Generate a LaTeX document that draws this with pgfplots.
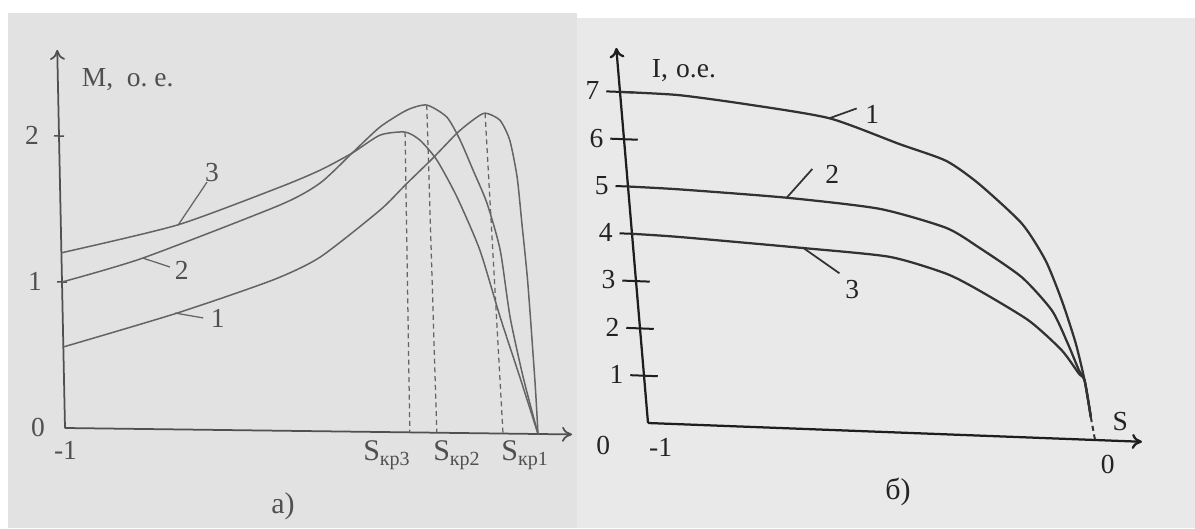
\documentclass[border=0pt]{standalone}
\usepackage{fontspec}
\setmainfont{Liberation Serif}
\usepackage{pgfplots}
\pgfplotsset{compat=1.18}
\usetikzlibrary{arrows.meta}
\definecolor{bgL}{RGB}{226,226,226}
\definecolor{bgR}{RGB}{233,233,233}
\definecolor{lineL}{RGB}{100,100,100}
\definecolor{axisL}{RGB}{80,80,80}
\definecolor{textL}{RGB}{80,80,80}
\definecolor{lineR}{RGB}{50,50,50}
\definecolor{axisR}{RGB}{30,30,30}
\definecolor{textR}{RGB}{35,35,35}
\begin{document}
\begin{tikzpicture}
\fill[white] (0pt,0pt) rectangle (478pt,211.2pt);
\fill[bgL] (3.2pt,0pt) rectangle (230.8pt,206pt);
\fill[bgR] (230.8pt,0pt) rectangle (478pt,204pt);

% ---------------- panel a) ----------------
\begin{axis}[
  at={(215.2pt,37.6pt)}, anchor=origin,
  x={(189.2pt,-2.4pt)}, y={(-1.2pt,58.4pt)},
  xmin=-1, xmax=0.072, ymin=0, ymax=2.59,
  axis lines=left,
  axis line style={draw=axisL, line width=0.7pt, -{To[length=4pt,width=6pt]}},
  clip=false,
  xtick={-1}, xticklabels={-1},
  ytick={1,2}, yticklabels={1,2},
  extra y ticks={0}, extra y tick labels={0},
  extra y tick style={tick style={draw=none}},
  tick align=center, major tick length=4pt,
  tick style={draw=axisL, line width=0.6pt},
  xtick style={draw=none},
  ticklabel style={font=\fontsize{11}{13}\selectfont, text=textL},
  yticklabel style={xshift=-2.5pt},
  xticklabel style={yshift=0pt},
]
% curve 1
\addplot[lineL, line width=0.6pt, smooth, tension=0.4] coordinates {
 (-1,0.555) (-0.758,0.797) (-0.554,1.032) (-0.453,1.193) (-0.324,1.521)
 (-0.270,1.694) (-0.210,1.882) (-0.158,2.055) (-0.124,2.145) (-0.098,2.194)
 (-0.067,2.147) (-0.047,2.011) (-0.033,1.758) (-0.025,1.444) (-0.015,1.034)
 (-0.004,0.349) (0,0)};
% curve 2
\addplot[lineL, line width=0.6pt, smooth, tension=0.4] coordinates {
 (-1,1.0) (-0.828,1.171) (-0.536,1.546) (-0.450,1.700) (-0.381,1.908)
 (-0.321,2.089) (-0.263,2.208) (-0.221,2.244) (-0.179,2.163) (-0.152,2.007)
 (-0.126,1.803) (-0.098,1.578) (-0.072,1.257) (-0.054,0.799) (-0.029,0.389)
 (0,0)};
% curve 3
\addplot[lineL, line width=0.6pt, smooth, tension=0.4] coordinates {
 (-1,1.2) (-0.754,1.400) (-0.535,1.669) (-0.449,1.789) (-0.381,1.908)
 (-0.321,2.034) (-0.268,2.057) (-0.237,2.003) (-0.202,1.868) (-0.161,1.616)
 (-0.115,1.255) (-0.075,0.798) (-0.036,0.389) (0,0)};
% critical slip lines
\addplot[lineL, line width=0.5pt, dash pattern=on 2pt off 1.5pt] coordinates {(-0.268,2.057) (-0.271,0)};
\addplot[lineL, line width=0.5pt, dash pattern=on 2pt off 1.5pt] coordinates {(-0.221,2.244) (-0.214,0)};
\addplot[lineL, line width=0.5pt, dash pattern=on 2pt off 1.5pt] coordinates {(-0.098,2.194) (-0.074,0)};
% labels
\node[text=textL, font=\fontsize{12}{14}\selectfont] at (axis cs:-0.320,-0.157) {S\textsubscript{кр3}};
\node[text=textL, font=\fontsize{12}{14}\selectfont] at (axis cs:-0.172,-0.151) {S\textsubscript{кр2}};
\node[text=textL, font=\fontsize{12}{14}\selectfont] at (axis cs:-0.028,-0.145) {S\textsubscript{кр1}};
\node[anchor=west, text=textL, font=\fontsize{11}{13}\selectfont] at (axis cs:-0.968,2.385) {M,\hspace{0.5em}о.\hspace{0.25em}е.};
\draw[lineL, line width=0.5pt] (axis cs:-0.752,1.400) -- (axis cs:-0.689,1.697);
\node[text=textL, font=\fontsize{11}{13}\selectfont] at (axis cs:-0.678,1.760) {3};
\draw[lineL, line width=0.5pt] (axis cs:-0.828,1.171) -- (axis cs:-0.771,1.112);
\node[text=textL, font=\fontsize{11}{13}\selectfont] at (axis cs:-0.746,1.092) {2};
\draw[lineL, line width=0.5pt] (axis cs:-0.762,0.797) -- (axis cs:-0.703,0.766);
\node[text=textL, font=\fontsize{11}{13}\selectfont] at (axis cs:-0.672,0.766) {1};
\end{axis}

% ---------------- panel b) ----------------
\begin{axis}[
  at={(438pt,35.2pt)}, anchor=origin,
  x={(178.8pt,-6.8pt)}, y={(-1.6pt,18.92pt)},
  xmin=-1, xmax=0.105, ymin=0, ymax=7.93,
  axis lines=left,
  axis line style={draw=axisR, line width=0.9pt, -{To[length=4pt,width=6pt]}},
  clip=false,
  xtick={-1,0}, xticklabels={-1,0},
  ytick={1,2,3,6,7}, yticklabels={1,2,3,6,7},
  extra y ticks={4,5}, extra y tick labels={4,5},
  extra y tick style={tick align=outside, major tick length=5pt},
  tick align=center, major tick length=11pt,
  tick style={draw=axisR, line width=0.8pt},
  xtick style={draw=none},
  ticklabel style={font=\fontsize{11}{13}\selectfont, text=textR},
  yticklabel style={xshift=0.8pt},
  xticklabel style={xshift=4pt, yshift=3pt},
]
% curve 1
\addplot[lineR, line width=0.9pt, smooth, tension=0.4] coordinates {
 (-1,7.0) (-0.87,6.98) (-0.718,6.84) (-0.535,6.61) (-0.383,6.12) (-0.281,5.80)
 (-0.212,5.34) (-0.123,4.53) (-0.077,3.77) (-0.048,2.93) (-0.025,2.04)
 (-0.012,1.25) (-0.005,0.48)};
% curve 2
\addplot[lineR, line width=0.9pt, smooth, tension=0.4] coordinates {
 (-1,5.0) (-0.883,4.98) (-0.646,4.89) (-0.440,4.73) (-0.294,4.38) (-0.224,3.99)
 (-0.133,3.39) (-0.072,2.71) (-0.043,2.03) (-0.023,1.47) (-0.012,1.25)
 (-0.005,0.48)};
% curve 3
\addplot[lineR, line width=0.9pt, smooth, tension=0.4] coordinates {
 (-1,4.0) (-0.892,3.97) (-0.626,3.84) (-0.427,3.72) (-0.303,3.41) (-0.232,3.08)
 (-0.126,2.48) (-0.058,1.88) (-0.024,1.40) (-0.012,1.25) (-0.005,0.48)};
% dashed end
\addplot[lineR, line width=0.8pt, dash pattern=on 2pt off 1.5pt] coordinates {(-0.005,0.48) (0,0)};
% labels
\node[anchor=west, text=textR, font=\fontsize{11}{13}\selectfont] at (axis cs:-0.944,7.48) {I,\hspace{0.3em}о.е.};
\node[text=textR, font=\fontsize{11}{13}\selectfont] at (axis cs:0.06,0.42) {S};
\node[text=textR, font=\fontsize{11}{13}\selectfont] at (axis cs:-1.105,-0.52) {0};
\draw[lineR, line width=0.7pt] (axis cs:-0.535,6.61) -- (axis cs:-0.472,6.84);
\node[text=textR, font=\fontsize{11}{13}\selectfont] at (axis cs:-0.438,6.73) {1};
\draw[lineR, line width=0.7pt] (axis cs:-0.646,4.89) -- (axis cs:-0.583,5.52);
\node[text=textR, font=\fontsize{11}{13}\selectfont] at (axis cs:-0.539,5.43) {2};
\draw[lineR, line width=0.7pt] (axis cs:-0.620,3.85) -- (axis cs:-0.542,3.33);
\node[text=textR, font=\fontsize{11}{13}\selectfont] at (axis cs:-0.516,3.00) {3};
\end{axis}

\node[text=textL, font=\fontsize{12}{14}\selectfont] at (113.2pt,8.8pt) {а)};
\node[text=textR, font=\fontsize{12}{14}\selectfont] at (359.2pt,14.4pt) {б)};
\end{tikzpicture}
\end{document}
